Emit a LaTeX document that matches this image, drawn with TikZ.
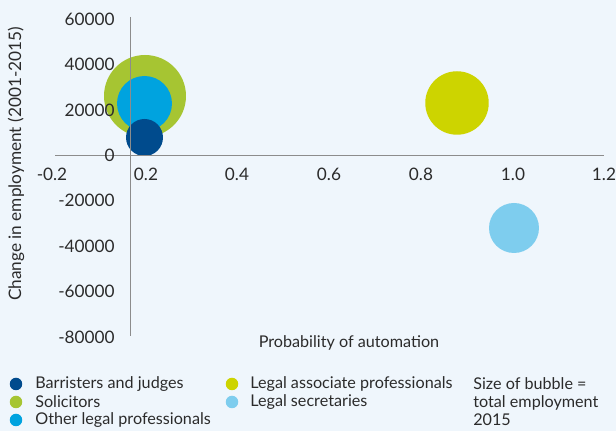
\documentclass[tikz,border=0pt]{standalone}
\usepackage{fontspec}
\setmainfont{Lato}
\usetikzlibrary{positioning}
\definecolor{chartbg}{HTML}{EFF6FC}
\definecolor{barristers}{HTML}{004B8D}
\definecolor{solicitors}{HTML}{A6C532}
\definecolor{otherlegal}{HTML}{00A3DF}
\definecolor{legalassoc}{HTML}{CDD400}
\definecolor{legalsec}{HTML}{7ECDEE}
\definecolor{axisgray}{HTML}{8C8C8C}
\definecolor{labelgray}{HTML}{2B2B2B}
\tikzstyle{axis} = [line width=0.6pt, color=axisgray]
\tikzstyle{bubble} = [circle, inner sep=0pt, outer sep=0pt]
\tikzstyle{ticklabel} = [inner sep=0pt, text=labelgray, font=\fontsize{9.8}{11}\selectfont]
\tikzstyle{titlelabel} = [inner sep=0pt, text=labelgray, font=\fontsize{9.2}{11}\selectfont]
\tikzstyle{legenddot} = [circle, inner sep=0pt, minimum size=0.25cm]
\tikzstyle{legendtext} = [anchor=west, inner sep=0pt, text=labelgray, font=\fontsize{9.2}{10.2}\selectfont]

\begin{document}
\begin{tikzpicture}[x=0.02cm, y=-0.02cm]
    % Background
    \fill[chartbg] (0,0) rectangle (616,431);
    \useasboundingbox (0,0) rectangle (616,431);

    % Bubbles
    \node[bubble, fill=solicitors, minimum size=1.64cm] (sol) at (145,96) {};
    \node[bubble, fill=otherlegal, minimum size=1.10cm] (oth) at (144.5,103.5) {};
    \node[bubble, fill=barristers, minimum size=0.74cm] (bar) at (144.5,137.5) {};
    \node[bubble, fill=legalassoc, minimum size=1.27cm] (assoc) at (457,103) {};
    \node[bubble, fill=legalsec, minimum size=1.00cm] (sec) at (514,228) {};

    % Axes
    \coordinate (ytop) at (130.5,17);
    \coordinate (ybot) at (130.5,336);
    \coordinate (xleft) at (55,155.5);
    \coordinate (xright) at (604,155.5);
    \draw[axis] (ytop) -- (ybot);
    \draw[axis] (xleft) -- (xright);

    % Tick labels
    \node[ticklabel, anchor=east] (y60) at (115,19) {60000};
    \node[ticklabel, anchor=east] (y40) at (115,64) {40000};
    \node[ticklabel, anchor=east] (y20) at (115,110) {20000};
    \node[ticklabel, anchor=east] (y0) at (115,155) {0};
    \node[ticklabel, anchor=east] (ym20) at (115,200) {-20000};
    \node[ticklabel, anchor=east] (ym40) at (115,246) {-40000};
    \node[ticklabel, anchor=east] (ym60) at (115,291) {-60000};
    \node[ticklabel, anchor=east] (ym80) at (115,337) {-80000};
    \node[ticklabel] (xm2) at (52,174) {-0.2};
    \node[ticklabel] (x2) at (146,174) {0.2};
    \node[ticklabel] (x4) at (237,174) {0.4};
    \node[ticklabel] (x6) at (329,174) {0.6};
    \node[ticklabel] (x8) at (421,174) {0.8};
    \node[ticklabel] (x10) at (513,174) {1.0};
    \node[ticklabel] (x12) at (604,174) {1.2};

    % Axis titles
    \node[ticklabel, rotate=90] (ytitle) at (16,164) {Change in employment (2001-2015)};
    \node[titlelabel] (xtitle) at (349,343) {Probability of automation};

    % Legend
    \node[legenddot, fill=barristers] (lbar) at (16,384) {};
    \node[legenddot, fill=solicitors] (lsol) at (16,402) {};
    \node[legenddot, fill=otherlegal] (loth) at (16,420) {};
    \node[legenddot, fill=legalassoc] (lassoc) at (232,384) {};
    \node[legenddot, fill=legalsec] (lsec) at (232,402) {};
    \node[legendtext] at (35,384) (tbar) {Barristers and judges};
    \node[legendtext] at (35,402) (tsol) {Solicitors};
    \node[legendtext] at (35,420) (toth) {Other legal professionals};
    \node[legendtext] at (250,384) (tassoc) {Legal associate professionals};
    \node[legendtext] at (250,402) (tsec) {Legal secretaries};
    \node[legendtext, anchor=north west, align=left] at (473,377) (tsize) {Size of bubble =\\total employment\\2015};
\end{tikzpicture}
\end{document}
